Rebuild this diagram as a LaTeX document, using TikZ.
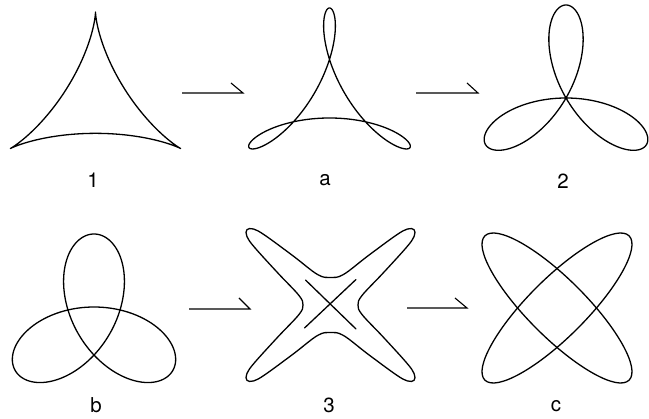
\documentclass[tikz,border=0pt]{standalone}
\usepackage{fontspec}
\setmainfont{TeX Gyre Heros}
\begin{document}
\begin{tikzpicture}[x=1pt,y=-1pt,
  curve/.style={line width=1.3pt, line join=round, line cap=round},
  arrowline/.style={line width=1.1pt, line join=miter},
  lab/.style={anchor=base, font=\fontsize{20.5}{22}\selectfont, inner sep=0pt}]
\useasboundingbox (0,0) rectangle (649,419);

% ---- figure 1: deltoid
\begin{scope}[shift={(95.5,103)}, xscale=1.08]
\draw[curve] plot[domain=0:360, samples=361, variable=\t]
  ({30.33*sin(2*\t) - 60.67*sin(\t)}, {-(60.67*cos(\t)+30.33*cos(2*\t))}) -- cycle;
\end{scope}

% ---- figure a
\begin{scope}[shift={(329.5,101)}]
\draw[curve, smooth] plot[domain=0:360, samples=241, variable=\t]
  ({38*sin(2*\t) - 55*sin(\t)}, {-(55*cos(\t)+38*cos(2*\t))}) -- cycle;
\end{scope}

% ---- figure 2
\begin{scope}[shift={(566,98)}]
\draw[curve, smooth] plot[domain=0:360, samples=241, variable=\t]
  ({46.5*sin(2*\t) - 46.5*sin(\t)}, {-(46.5*cos(\t)+46.5*cos(2*\t))}) -- cycle;
\end{scope}

% ---- figure b
\begin{scope}[shift={(94,325)}]
\draw[curve, smooth] plot[domain=0:360, samples=241, variable=\t]
  ({54.5*sin(2*\t) - 36.5*sin(\t)}, {-(36.5*cos(\t)+54.5*cos(2*\t))}) -- cycle;
\end{scope}

% ---- figure 3: four-armed star with inner cross
\begin{scope}[shift={(330.5,305)}]
\draw[curve] plot[smooth cycle, tension=0.6] coordinates {
 (0:27.5)
 (17:33.1) (31.15:61.1) (37.19:95.3) (39.35:108.1) (42:112.5)
 (44.65:108.1) (46.81:95.3) (52.85:61.1) (67:33.1)
 (90:27.5)
 (113:33.1) (127.15:61.1) (133.19:95.3) (135.35:108.1) (138:112.5)
 (140.65:108.1) (142.81:95.3) (148.85:61.1) (163:33.1)
 (180:27.5)
 (197:33.1) (211.15:61.1) (217.19:95.3) (219.35:108.1) (222:112.5)
 (224.65:108.1) (226.81:95.3) (232.85:61.1) (247:33.1)
 (270:27.5)
 (293:33.1) (307.15:61.1) (313.19:95.3) (315.35:108.1) (318:112.5)
 (320.65:108.1) (322.81:95.3) (328.85:61.1) (343:33.1)
};
\end{scope}
\draw[curve] (305.5,280) -- (356,329);
\draw[curve] (356,279.5) -- (304.5,328);

% ---- figure c: two crossing ellipses
\draw[curve, rotate around={45:(557,308)}] (557,308) ellipse [x radius=102pt, y radius=29pt];
\draw[curve, rotate around={-45:(557,308)}] (557,308) ellipse [x radius=102pt, y radius=29pt];

% ---- arrows
\coordinate (r1s) at (182,93);  \coordinate (r1e) at (243,93);  \coordinate (r1b) at (231,83);
\coordinate (r2s) at (416,93);  \coordinate (r2e) at (478,93);  \coordinate (r2b) at (467,83);
\coordinate (r3s) at (189,309); \coordinate (r3e) at (250,309); \coordinate (r3b) at (239,298);
\coordinate (r4s) at (407,308); \coordinate (r4e) at (467,308); \coordinate (r4b) at (455,298);
\draw[arrowline] (r1s) -- (r1e) -- (r1b);
\draw[arrowline] (r2s) -- (r2e) -- (r2b);
\draw[arrowline] (r3s) -- (r3e) -- (r3b);
\draw[arrowline] (r4s) -- (r4e) -- (r4b);

% ---- labels
\node[lab] (l1) at (93,188) {1};
\node[lab] (la) at (325,186) {a};
\node[lab] (l2) at (563,189) {2};
\node[lab] (lb) at (96,413) {b};
\node[lab] (l3) at (329,413) {3};
\node[lab] (lc) at (556,412) {c};
\end{tikzpicture}
\end{document}
